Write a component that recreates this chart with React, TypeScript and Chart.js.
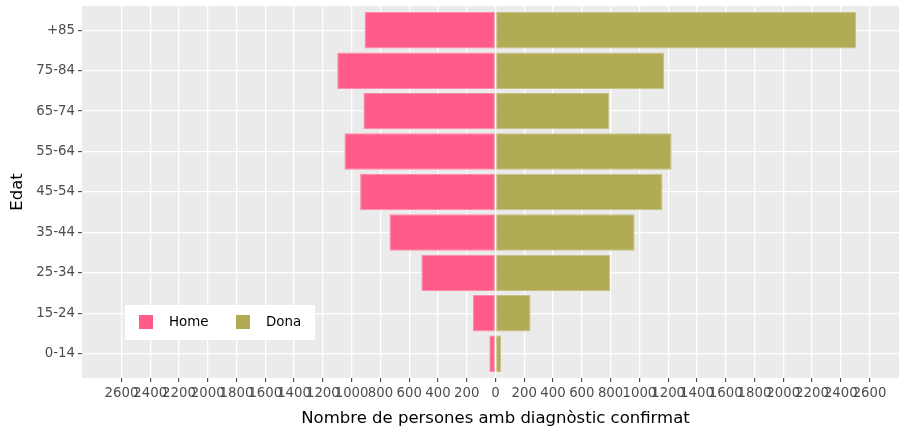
import React, { useEffect, useRef } from 'react';
import { Chart, registerables } from 'chart.js';

Chart.register(...registerables);

const ageGroups = ['+85', '75-84', '65-74', '55-64', '45-54', '35-44', '25-34', '15-24', '0-14'];
const homeValues = [910, 1100, 918, 1050, 941, 737, 515, 157, 43];
const donaValues = [2506, 1171, 791, 1224, 1161, 967, 798, 244, 40];
const xTickValues = [-2600, -2400, -2200, -2000, -1800, -1600, -1400, -1200, -1000, -800, -600, -400, -200, 0, 200, 400, 600, 800, 1000, 1200, 1400, 1600, 1800, 2000, 2200, 2400, 2600];
const seriesNames = ['Home', 'Dona'];
const seriesColors = ['#FF5C8A', '#B2AB55'];
const seriesEdges = ['#FF8AAB', '#C8C285'];
const xTitle = 'Nombre de persones amb diagnòstic confirmat';
const yTitle = 'Edat';

const FONT = "'DejaVu Sans', sans-serif";

const panelBg = {
  id: 'panelBg',
  beforeDraw(chart: any) {
    const { ctx, chartArea } = chart;
    ctx.save();
    ctx.fillStyle = '#EBEBEB';
    ctx.fillRect(chartArea.left, chartArea.top, chartArea.right - chartArea.left, chartArea.bottom - chartArea.top);
    ctx.restore();
  },
};

const insideLegend = {
  id: 'insideLegend',
  afterDraw(chart: any) {
    const { ctx } = chart;
    ctx.save();
    ctx.fillStyle = '#FFFFFF';
    ctx.fillRect(125, 305, 190, 35);
    ctx.font = `13.4px ${FONT}`;
    ctx.textBaseline = 'middle';
    ctx.textAlign = 'left';
    const slots = [{ sx: 139, tx: 169 }, { sx: 236, tx: 266 }];
    chart.data.datasets.forEach((ds: any, i: number) => {
      ctx.fillStyle = ds.backgroundColor;
      ctx.fillRect(slots[i].sx, 315, 14, 14);
      ctx.fillStyle = '#000000';
      ctx.fillText(ds.label, slots[i].tx, 322.5);
    });
    ctx.restore();
  },
};

export default function App() {
  const ref = useRef<HTMLCanvasElement>(null);
  useEffect(() => {
    if (!ref.current) return;
    const chart = new Chart(ref.current, {
      type: 'bar',
      data: {
        labels: ageGroups,
        datasets: [
          {
            label: seriesNames[0],
            data: homeValues.map((v) => -v),
            backgroundColor: seriesColors[0],
            borderColor: seriesEdges[0],
            borderWidth: 1,
            borderSkipped: false,
            barPercentage: 0.9,
            categoryPercentage: 1,
          },
          {
            label: seriesNames[1],
            data: donaValues,
            backgroundColor: seriesColors[1],
            borderColor: seriesEdges[1],
            borderWidth: 1,
            borderSkipped: false,
            barPercentage: 0.9,
            categoryPercentage: 1,
          },
        ],
      },
      options: {
        indexAxis: 'y',
        responsive: false,
        animation: false,
        layout: { padding: { top: 6, left: 0, right: 0, bottom: 0 } },
        plugins: { legend: { display: false }, tooltip: { enabled: false } },
        scales: {
          x: {
            type: 'linear',
            stacked: true,
            min: -2874,
            max: 2874,
            afterBuildTicks: (scale: any) => {
              scale.ticks = xTickValues.map((v) => ({ value: v }));
            },
            afterFit: (scale: any) => {
              scale.height = 52;
              scale.paddingLeft = 0;
              scale.paddingRight = 0;
            },
            border: { display: false },
            grid: {
              color: '#FFFFFF',
              lineWidth: 1.3,
              tickColor: '#333333',
              tickLength: 4,
              tickWidth: 1,
            },
            ticks: {
              autoSkip: false,
              maxRotation: 0,
              minRotation: 0,
              padding: 4,
              color: '#4D4D4D',
              font: { family: FONT, size: 13.3 },
              callback: (v: any) => String(Math.abs(Number(v))),
            },
            title: {
              display: true,
              text: xTitle,
              color: '#000000',
              font: { family: FONT, size: 16.5 },
              padding: { top: 0, bottom: 1 },
            },
          },
          y: {
            type: 'category',
            stacked: true,
            afterBuildTicks: (scale: any) => {
              scale._startValue = -0.6;
              scale._valueRange = ageGroups.length + 0.2;
            },
            afterFit: (scale: any) => {
              scale.width = 82;
              scale.paddingTop = 0;
              scale.paddingBottom = 0;
            },
            border: { display: false },
            grid: {
              offset: false,
              color: '#FFFFFF',
              lineWidth: 1.3,
              tickColor: '#333333',
              tickLength: 4,
              tickWidth: 1,
            },
            ticks: {
              padding: 3,
              color: '#4D4D4D',
              font: { family: FONT, size: 13.3 },
            },
            title: {
              display: true,
              text: yTitle,
              color: '#000000',
              font: { family: FONT, size: 16.5 },
              padding: { top: 8, bottom: 0 },
            },
          },
        },
      } as any,
      plugins: [panelBg, insideLegend],
    });
    return () => chart.destroy();
  }, []);

  return (
    <div style={{ position: 'fixed', left: 0, top: 0, width: 899, height: 430, overflow: 'hidden', background: '#FFFFFF' }}>
      <canvas ref={ref} width={909} height={430} style={{ width: 909, height: 430, display: 'block' }} />
    </div>
  );
}
